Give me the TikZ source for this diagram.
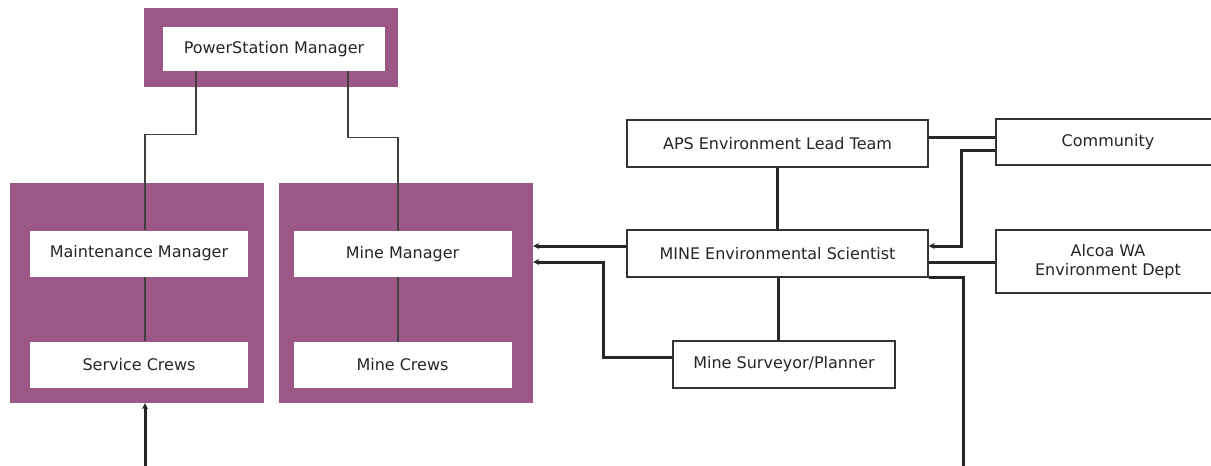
\documentclass[tikz,border=0pt]{standalone}
\usepackage{fontspec}
\setmainfont{DejaVu Sans}
\usepackage{xcolor}
\usetikzlibrary{arrows.meta,positioning}
\definecolor{orgpurple}{RGB}{155,88,135}

\begin{document}
\begin{tikzpicture}[
    x=1pt, y=-1pt,
    frame/.style={rectangle, fill=orgpurple, minimum width=254pt, inner sep=0pt},
    role/.style={rectangle, fill=white, minimum width=218pt, minimum height=46pt,
                 inner sep=0pt, align=center, text=black!85, font=\fontsize{16}{19.5}\selectfont},
    box/.style={rectangle, draw=black!80, line width=1.4pt, fill=white, minimum height=47pt,
                inner sep=0pt, align=center, text=black!85, font=\fontsize{16}{19.5}\selectfont},
    orgline/.style={draw=black!75, line width=1.1pt},
    link/.style={draw=black!85, line width=3pt},
    toarrow/.style={-{Stealth[length=6pt,width=6pt]}},
]
    \useasboundingbox (0,0) rectangle (1211,466);

    \node[frame, minimum height=79pt] (psframe) at (271,47.5) {};
    \node[role, minimum width=222pt, minimum height=44pt] (psm) at (274,49) {PowerStation Manager};

    \node[frame, minimum height=220pt] (maintframe) at (137,293) {};
    \node[role] (maint) at (139,253.5) {Maintenance Manager};
    \node[role] (service) at (139,364.5) {Service Crews};

    \node[frame, minimum height=220pt] (mineframe) at (406,293) {};
    \node[role] (minemgr) at (402.5,254) {Mine Manager};
    \node[role] (minecrews) at (402.5,365) {Mine Crews};

    \node[box, minimum width=301pt] (aps) at (777.5,143.5) {APS Environment Lead Team};
    \node[box, minimum width=301pt] (scientist) at (777.5,253.5) {MINE Environmental Scientist};
    \node[box, minimum width=224pt, minimum height=46pt] (community) at (1108,142) {Community};
    \node[box, minimum width=224pt, minimum height=63pt] (alcoa) at (1108,261.5) {Alcoa WA\\Environment Dept};
    \node[box, minimum width=222pt] (surveyor) at (784,364.5) {Mine Surveyor/Planner};

    \coordinate (downleft) at (145,470);
    \coordinate (downright) at (963,470);

    % reporting lines
    \draw[orgline] ([xshift=-78pt]psm.south) -- ++(0,63) -| ([xshift=6pt]maint.north);
    \draw[orgline] ([xshift=6pt]maint.south) -- ([xshift=6pt]service.north);
    \draw[orgline] ([xshift=74pt]psm.south) -- ++(0,66) -| ([xshift=-4.5pt]minemgr.north);
    \draw[orgline] ([xshift=-4.5pt]minemgr.south) -- ([xshift=-4.5pt]minecrews.north);

    % environment links
    \draw[link] (aps) -- (scientist);
    \draw[link] ([yshift=6pt]aps.east) -- ([yshift=6pt]aps.east -| community.west);
    \draw[link, toarrow] ([yshift=-8pt]community.west) -- ++(-34,0) |- ([yshift=7.5pt]scientist.east);
    \draw[link] ([yshift=-8.5pt]scientist.east) -- ([yshift=-8.5pt]scientist.east -| alcoa.west);
    \draw[link] (scientist.south east) -| (downright);
    \draw[link, toarrow] ([yshift=7.5pt]scientist.west) -- ([yshift=7.5pt]scientist.west -| mineframe.east);
    \draw[link, toarrow] ([yshift=7.5pt]surveyor.west) -- ++(-69,0) |- ([yshift=31pt]mineframe.east);
    \draw[link] ([xshift=-6pt]surveyor.north) -- ([xshift=-6pt]surveyor.north |- scientist.south);
    \draw[link, toarrow] (downleft) -- (downleft |- maintframe.south);
\end{tikzpicture}
\end{document}
